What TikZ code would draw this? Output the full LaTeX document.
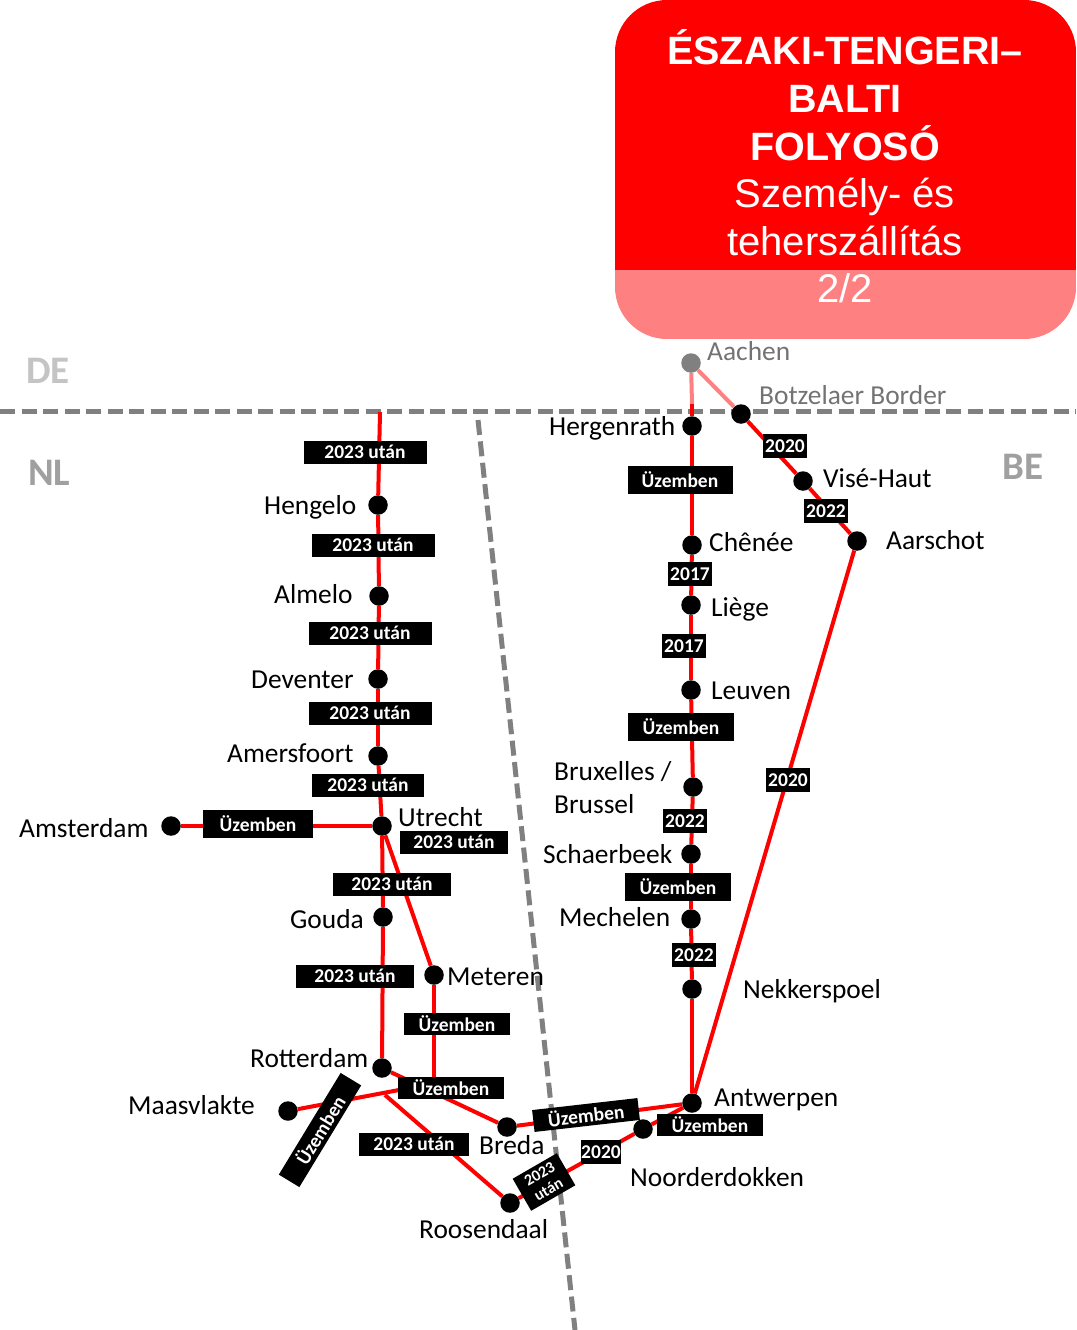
\documentclass[tikz,border=0pt]{standalone}
\usepackage{fontspec}
\setmainfont{Carlito}
\newfontfamily\titlefont{Liberation Sans}
\definecolor{railred}{HTML}{FF0000}
\definecolor{railpink}{HTML}{FF8080}
\definecolor{bordergray}{HTML}{808080}
\definecolor{namegray}{HTML}{737373}
\definecolor{countrygray}{HTML}{A0A0A0}
\definecolor{degray}{HTML}{C4C4C4}
\pgfdeclarelayer{under}
\pgfsetlayers{under,main}
\tikzset{
  rail/.style={draw=railred,line width=4pt},
  railfaded/.style={draw=railpink,line width=4pt},
  borderline/.style={draw=bordergray,line width=5pt,dash pattern=on 15pt off 6.5pt},
  stn/.style={circle,fill=black,minimum size=19.5pt,inner sep=0pt},
  stngray/.style={circle,fill=bordergray,minimum size=19.5pt,inner sep=0pt},
  place/.style={anchor=west,inner sep=0pt,yshift=-2.5pt,font=\fontsize{27.4}{27.4}\selectfont,text height=19pt,text depth=6pt,text=black},
  placegray/.style={place,text=namegray},
  country/.style={anchor=west,inner sep=0pt,font=\fontsize{39}{39}\selectfont\bfseries,text=countrygray},
  tag/.style={fill=black,text=white,inner sep=0pt,align=center,font=\fontsize{19.5}{21}\selectfont\bfseries,minimum width=#1},
  tag/.default=44pt,
  tagthin/.style={tag=#1,minimum height=23pt},
  tagtall/.style={tag=#1,minimum height=28pt},
  titleb/.style={text=white,inner sep=0pt,text height=30pt,text depth=8pt,font=\titlefont\fontsize{39.5}{39.5}\selectfont\bfseries},
  titler/.style={text=white,inner sep=0pt,text height=30pt,text depth=8pt,font=\titlefont\fontsize{40}{40}\selectfont},
}
\begin{document}
\begin{tikzpicture}[x=1pt,y=-1pt]
\useasboundingbox (0,0) rectangle (1076,1330);
% stations
\coordinate (top) at (380,412);
\coordinate (fadeend) at (692,404);
\coordinate (jct) at (385,1095);
\coordinate (maasend) at (420,1086);
\coordinate (metend) at (434,1082);
\node[stn] (heng) at (378,505) {};
\node[stn] (alme) at (379,596) {};
\node[stn] (deve) at (378,679) {};
\node[stn] (amer) at (378,756) {};
\node[stn] (utre) at (382,826) {};
\node[stn] (amst) at (171,826) {};
\node[stn] (goud) at (383,917) {};
\node[stn] (mete) at (434,975) {};
\node[stn] (rott) at (382,1068) {};
\node[stn] (maas) at (288,1111) {};
\node[stn] (bred) at (507,1127) {};
\node[stn] (roos) at (510,1203) {};
\node[stn] (nood) at (643,1129) {};
\node[stn] (antw) at (692,1103) {};
\node[stn] (nekk) at (692,989) {};
\node[stn] (mech) at (691,919) {};
\node[stn] (scha) at (691,854) {};
\node[stn] (brux) at (693,787) {};
\node[stn] (leuv) at (691,690) {};
\node[stn] (lieg) at (691,605) {};
\node[stn] (chen) at (692,545) {};
\node[stn] (herg) at (692,426) {};
\node[stngray] (aach) at (691,363) {};
\node[stn] (botz) at (741,414) {};
\node[stn] (vise) at (803,481) {};
\node[stn] (aars) at (857,541) {};
\coordinate (bh1) at (0,411);
\coordinate (bh2) at (1076,411);
\coordinate (bv1) at (478,420);
\coordinate (bv2) at (575,1330);
\begin{pgfonlayer}{under}
\fill[white] (0,0) rectangle (1076,1330);
\begin{scope}
\clip[rounded corners=52pt] (615,0) rectangle (1076,339);
\fill[railred] (615,0) rectangle (1076,270);
\fill[railpink] (615,270) rectangle (1076,339);
\end{scope}
\draw[borderline] (bh1) -- (bh2);
\draw[borderline] (bv1) -- (bv2);
\draw[railfaded] (aach) -- (fadeend);
\draw[railfaded] (aach) -- (botz);
\draw[rail] (fadeend) -- (herg);
\draw[rail] (top) -- (heng);
\draw[rail] (heng) -- (alme);
\draw[rail] (alme) -- (deve);
\draw[rail] (deve) -- (amer);
\draw[rail] (amer) -- (utre);
\draw[rail] (amst) -- (utre);
\draw[rail] (utre) -- (goud);
\draw[rail] (goud) -- (rott);
\draw[rail] (utre) -- (mete);
\draw[rail] (mete) -- (metend);
\draw[rail] (rott) -- (bred);
\draw[rail] (bred) -- (antw);
\draw[rail] (maas) -- (maasend);
\draw[rail] (jct) -- (roos);
\draw[rail] (roos) -- (nood);
\draw[rail] (nood) -- (antw);
\draw[rail] (herg) -- (chen);
\draw[rail] (chen) -- (lieg);
\draw[rail] (lieg) -- (leuv);
\draw[rail] (leuv) -- (brux);
\draw[rail] (brux) -- (scha);
\draw[rail] (scha) -- (mech);
\draw[rail] (mech) -- (nekk);
\draw[rail] (nekk) -- (antw);
\draw[rail] (botz) -- (vise);
\draw[rail] (vise) -- (aars);
\draw[rail] (aars) -- (antw);
\end{pgfonlayer}
% header text
\node[titleb] (t1) at (845,54) {ÉSZAKI-TENGERI–};
\node[titleb] (t2) at (845,101) {BALTI};
\node[titleb] (t3) at (845,149) {FOLYOSÓ};
\node[titler] (t4) at (845,196) {Személy- és};
\node[titler] (t5) at (845,244) {teherszállítás};
\node[titler] (t6) at (845,291) {2/2};
% status tags
\node[tagthin=123pt] (a1) at (365,452) {2023 után};
\node[tagthin=123pt] (a2) at (373,545) {2023 után};
\node[tagthin=123pt] (a3) at (370,633) {2023 után};
\node[tagthin=123pt] (a4) at (370,713) {2023 után};
\node[tagthin=112pt] (a5) at (368,785) {2023 után};
\node[tagthin=108pt] (a6) at (454,842) {2023 után};
\node[tagthin=118pt] (a7) at (392,884) {2023 után};
\node[tagthin=118pt] (a8) at (355,976) {2023 után};
\node[tagthin=110pt] (a9) at (414,1144) {2023 után};
\node[tagtall=110pt] (u1) at (258,824) {\raisebox{1pt}{Üzemben}};
\node[tag=106pt,minimum height=22pt] (u2) at (457,1024) {Üzemben};
\node[tag=106pt,minimum height=22pt] (u3) at (451,1088) {Üzemben};
\node[tag=106pt,minimum height=22pt] (u4) at (710,1125) {Üzemben};
\node[tagtall=105pt] (u5) at (680,480) {\raisebox{1pt}{Üzemben}};
\node[tagtall=106pt] (u6) at (681,727) {\raisebox{1pt}{Üzemben}};
\node[tagtall=106pt] (u7) at (678,887) {\raisebox{1pt}{Üzemben}};
\node[tag=119pt,minimum height=24pt,rotate=58.7] (u8) at (320,1130) {Üzemben};
\node[tag=106pt,minimum height=22pt,rotate=6.5] (u9) at (586,1115) {Üzemben};
\node[tag=51pt,minimum height=37pt,rotate=30,font=\fontsize{16}{18}\selectfont\bfseries] (a10) at (544,1182) {2023\\után};
\node[tag,minimum height=24pt] (y1) at (785,446) {2020};
\node[tag,minimum height=24pt] (y2) at (826,511) {2022};
\node[tag,minimum height=24pt] (y3) at (788,780) {2020};
\node[tag,minimum height=24pt] (y4) at (690,574) {2017};
\node[tag,minimum height=24pt] (y5) at (684,646) {2017};
\node[tag,minimum height=24pt] (y6) at (685,821) {2022};
\node[tag,minimum height=24pt] (y7) at (694,955) {2022};
\node[tag=40pt,minimum height=24pt] (y8) at (601,1152) {2020};
% names
\node[placegray] (n1) at (707,351) {Aachen};
\node[placegray] (n2) at (759,395) {Botzelaer Border};
\node[place] (n3) at (549,426) {Hergenrath};
\node[place] (n4) at (823,478) {Visé-Haut};
\node[place] (n5) at (886,540) {Aarschot};
\node[place] (n6) at (709,542) {Chênée};
\node[place] (n7) at (711,607) {Liège};
\node[place] (n8) at (711,690) {Leuven};
\node[place] (n9) at (554,771) {Bruxelles /};
\node[place] (n10) at (554,804) {Brussel};
\node[place] (n11) at (543,854) {Schaerbeek};
\node[place] (n12) at (559,917) {Mechelen};
\node[place] (n13) at (743,989) {Nekkerspoel};
\node[place] (n14) at (714,1097) {Antwerpen};
\node[place] (n15) at (630,1177) {Noorderdokken};
\node[place] (n16) at (479,1145) {Breda};
\node[place] (n17) at (419,1229) {Roosendaal};
\node[place] (n18) at (250,1058) {Rotterdam};
\node[place] (n19) at (128,1105) {Maasvlakte};
\node[place] (n20) at (447,976) {Meteren};
\node[place] (n21) at (290,919) {Gouda};
\node[place] (n22) at (398,817) {Utrecht};
\node[place] (n23) at (19,828) {Amsterdam};
\node[place] (n24) at (227,753) {Amersfoort};
\node[place] (n25) at (251,679) {Deventer};
\node[place] (n26) at (274,594) {Almelo};
\node[place] (n27) at (264,505) {Hengelo};
\node[country,text=degray] (c1) at (26,371) {DE};
\node[country] (c2) at (28,473) {NL};
\node[country] (c3) at (1002,467) {BE};
\end{tikzpicture}
\end{document}
